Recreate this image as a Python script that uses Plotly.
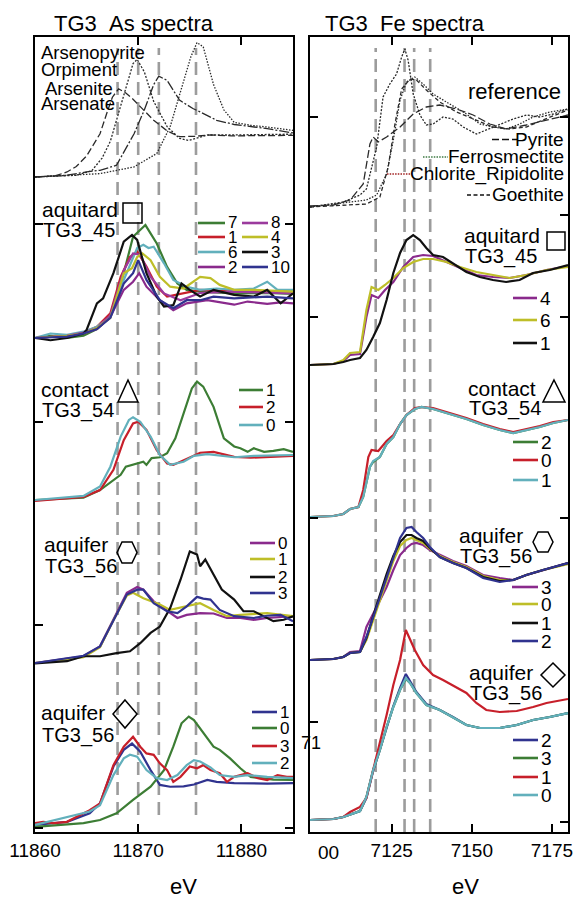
import plotly.graph_objects as go

# ======================= DATA =======================
# ---- As K-edge (left column) ----
as_ref_names = ["Arsenopyrite", "Orpiment", "Arsenite", "Arsenate"]
as_ref_e = [
    [11860, 11862, 11863.1, 11864, 11865, 11866, 11866.3, 11867, 11867.5, 11868.1, 11868.8, 11869.5, 11870.5, 11871.5, 11872.8, 11874, 11875.5, 11877, 11879, 11882, 11885],
    [11860, 11864, 11865.5, 11866.5, 11867.3, 11868.1, 11868.9, 11869.5, 11869.9, 11870.6, 11871.5, 11872.8, 11874, 11874.9, 11876.7, 11879, 11885],
    [11860, 11863, 11865, 11866.3, 11867.9, 11869.6, 11870.6, 11871.5, 11872, 11872.8, 11874, 11875.3, 11876, 11877.6, 11879.3, 11882.5, 11885],
    [11860, 11866.3, 11869.6, 11871.8, 11873.1, 11874.1, 11875.1, 11875.7, 11876.3, 11877.3, 11878.3, 11879.3, 11880.9, 11882.5, 11885],
]
as_ref_v = [
    [0, 0.03, 0.12, 0.25, 0.5, 0.9, 1.03, 1.55, 1.9, 2.1, 2.0, 1.85, 1.6, 1.35, 1.1, 0.96, 0.97, 1.0, 0.98, 0.99, 0.99],
    [0, 0.04, 0.15, 0.45, 0.85, 1.5, 2.2, 2.7, 2.8, 2.5, 1.8, 1.2, 0.92, 0.87, 1.0, 1.0, 1.02],
    [0, 0.04, 0.12, 0.16, 0.28, 1.03, 1.6, 2.2, 2.4, 2.3, 1.83, 1.63, 1.55, 1.35, 1.25, 1.15, 1.05],
    [0, 0.08, 0.24, 0.56, 1.2, 2.06, 2.86, 3.2, 3.1, 2.2, 1.6, 1.3, 1.23, 1.19, 1.11],
]

as_aqt_names = ["7", "1", "6", "2", "8", "4", "3", "10"]
as_aqt_e = [
    [11860, 11861.5, 11863.1, 11864.7, 11866.0, 11867.3, 11868.6, 11869.5, 11870.7, 11871.8, 11872.8, 11873.8, 11874.7, 11876.0, 11879.3, 11882.5, 11885],
    [11860, 11863.1, 11864.7, 11866.0, 11867.3, 11868.3, 11869.2, 11869.9, 11870.8, 11871.8, 11872.8, 11874.7, 11876.0, 11879.3, 11885],
    [11860, 11861.5, 11863.1, 11864.7, 11866.0, 11867.3, 11868.6, 11869.9, 11870.5, 11871.0, 11871.5, 11872.5, 11873.4, 11874.7, 11876.0, 11877.6, 11879.3, 11881.2, 11882.5, 11883.5, 11885],
    [11860, 11863.1, 11864.7, 11866.0, 11867.3, 11868.6, 11869.5, 11870.1, 11870.8, 11872.1, 11873.4, 11874.7, 11876.7, 11879.3, 11880.6, 11882.5, 11883.8, 11885],
    [11860, 11863.1, 11864.7, 11866.0, 11867.3, 11868.6, 11869.5, 11870.2, 11871.2, 11872.5, 11874.1, 11876.0, 11879.3, 11885],
    [11860, 11863.1, 11864.7, 11866.0, 11867.3, 11868.6, 11869.4, 11869.9, 11870.4, 11871.2, 11872.1, 11873.1, 11874.4, 11876.0, 11877.0, 11877.9, 11879.3, 11881.2, 11885],
    [11860, 11861.5, 11863.1, 11864.7, 11865.0, 11866.0, 11866.6, 11867.6, 11868.6, 11869.4, 11869.9, 11870.8, 11871.8, 11872.5, 11873.4, 11874.2, 11875.0, 11876.0, 11877.3, 11879.3, 11881.2, 11882.5, 11883.8, 11885],
    [11860, 11863.1, 11864.7, 11866.0, 11867.3, 11868.6, 11869.5, 11870.0, 11870.8, 11872.1, 11873.4, 11874.7, 11876.0, 11877.3, 11879.3, 11882.5, 11885],
]
as_aqt_v = [
    [0, 0.05, 0.0, 0.05, 0.2, 0.47, 1.44, 2.25, 2.51, 2.1, 1.58, 1.21, 1.07, 1.03, 0.99, 1.0, 0.98],
    [0, 0.05, 0.12, 0.25, 0.55, 1.36, 1.8, 1.92, 1.59, 1.14, 0.92, 1.0, 1.07, 1.03, 1.03],
    [0, 0.1, 0.07, 0.14, 0.25, 0.47, 1.29, 2.0, 2.07, 2.0, 2.03, 1.66, 1.29, 1.14, 1.07, 1.1, 1.07, 1.1, 1.25, 1.07, 1.07],
    [0, 0.05, 0.1, 0.2, 0.47, 1.07, 1.25, 1.44, 1.14, 0.84, 0.62, 0.77, 0.84, 0.74, 0.81, 0.76, 0.79, 0.77],
    [0, 0.05, 0.12, 0.22, 0.5, 1.5, 1.88, 1.85, 1.36, 0.99, 0.84, 1.0, 1.03, 0.99],
    [0, 0.05, 0.1, 0.22, 0.45, 1.44, 1.55, 1.8, 1.88, 1.73, 1.36, 1.14, 1.1, 1.36, 1.33, 1.18, 1.07, 1.07, 1.03],
    [0, -0.05, 0.0, 0.1, 0.18, 0.77, 0.88, 1.44, 2.14, 2.29, 2.18, 1.44, 0.92, 0.7, 0.73, 1.21, 1.07, 0.92, 1.07, 0.96, 0.92, 1.07, 0.77, 0.99],
    [0, 0.03, 0.1, 0.2, 0.45, 1.21, 1.44, 1.73, 1.29, 0.84, 0.66, 0.84, 0.84, 0.92, 0.88, 0.92, 0.88],
]

as_con_names = ["1", "2", "0"]
as_con_e = [
    [11860, 11864.7, 11866.3, 11867.6, 11868.3, 11868.8, 11869.5, 11870.5, 11870.8, 11871.3, 11872.1, 11872.8, 11873.6, 11874.4, 11875.2, 11875.7, 11876.3, 11877.3, 11878.3, 11879.3, 11879.9, 11880.6, 11881.2, 11882.2, 11883.1, 11884.1, 11885],
    [11860, 11864.7, 11866.3, 11867.6, 11868.6, 11869.5, 11870.0, 11870.8, 11871.8, 11872.8, 11873.4, 11874.4, 11876.0, 11877.3, 11879.3, 11880.9, 11882.5, 11885],
    [11860, 11864.7, 11866.3, 11867.3, 11868.3, 11869.1, 11869.5, 11870.2, 11871.2, 11872.1, 11873.1, 11874.4, 11875.4, 11876.7, 11879.3, 11881.2, 11885],
]
as_con_v = [
    [0, 0.05, 0.22, 0.44, 0.56, 0.74, 0.78, 0.85, 0.78, 0.93, 0.95, 1.04, 1.37, 1.93, 2.48, 2.63, 2.52, 2.07, 1.37, 1.19, 1.15, 1.07, 1.15, 1.07, 1.09, 1.13, 1.07],
    [-0.02, 0.07, 0.22, 0.67, 1.33, 1.7, 1.74, 1.56, 1.11, 0.81, 0.78, 0.89, 1.05, 1.07, 0.96, 0.94, 0.95, 0.98],
    [0, 0.09, 0.3, 0.74, 1.41, 1.78, 1.84, 1.74, 1.41, 1.0, 0.78, 0.85, 0.98, 1.02, 0.95, 0.98, 1.0],
]

as_hexa_names = ["0", "1", "2", "3"]
as_hexa_e = [
    [11860, 11864.7, 11866.3, 11867.6, 11868.9, 11869.9, 11870.5, 11871.5, 11872.8, 11873.8, 11874.7, 11876.0, 11877.3, 11878.6, 11879.9, 11881.2, 11882.5, 11885],
    [11860, 11864.7, 11866.3, 11867.6, 11868.9, 11869.5, 11870.5, 11872.1, 11873.1, 11874.7, 11876.0, 11877.3, 11878.6, 11879.9, 11882.5, 11885],
    [11860, 11863.1, 11864.7, 11866.3, 11867.9, 11869.2, 11870.2, 11871.2, 11872.1, 11873.1, 11874.1, 11875.0, 11875.7, 11876.0, 11876.5, 11877.3, 11878.1, 11879.3, 11880.2, 11881.2, 11882.2, 11883.1, 11884.1, 11885],
    [11860, 11864.7, 11866.3, 11867.6, 11868.9, 11869.9, 11870.5, 11871.5, 11872.8, 11873.8, 11874.7, 11875.7, 11876.3, 11877.0, 11877.9, 11879.3, 11881.2, 11882.5, 11883.8, 11885],
]
as_hexa_v = [
    [0, 0.15, 0.37, 0.96, 1.56, 1.69, 1.63, 1.37, 1.15, 1.0, 1.07, 1.11, 1.1, 1.0, 1.0, 0.96, 1.0, 1.04],
    [0, 0.13, 0.35, 0.95, 1.5, 1.56, 1.44, 1.3, 1.18, 1.26, 1.33, 1.18, 1.04, 1.07, 1.11, 1.04],
    [-0.01, 0.04, 0.15, 0.15, 0.22, 0.26, 0.44, 0.67, 0.81, 1.22, 1.85, 2.48, 2.41, 2.15, 2.3, 1.96, 1.63, 1.41, 1.15, 1.15, 1.04, 0.93, 0.96, 1.04],
    [0, 0.16, 0.37, 0.96, 1.52, 1.63, 1.63, 1.33, 1.15, 1.11, 1.26, 1.47, 1.43, 1.41, 1.18, 1.04, 1.0, 1.05, 1.07, 0.93],
]

as_diam_names = ["1", "0", "3", "2"]
as_diam_e = [
    [11860, 11863.1, 11865.3, 11866.3, 11867.6, 11868.6, 11869.4, 11870.2, 11871.2, 11872.1, 11873.1, 11874.4, 11875.4, 11876.7, 11877.6, 11879.3, 11882.5, 11885],
    [11860, 11864.7, 11866.3, 11867.9, 11869.5, 11871.2, 11872.5, 11873.4, 11874.2, 11874.9, 11875.4, 11876.3, 11877.3, 11877.9, 11878.9, 11879.9, 11880.9, 11881.9, 11883.1, 11885],
    [11860, 11860.8, 11861.8, 11863.1, 11865.3, 11866.3, 11867.6, 11868.6, 11869.5, 11870.2, 11870.8, 11871.5, 11872.1, 11872.8, 11873.4, 11874.1, 11875.0, 11875.7, 11876.3, 11877.0, 11877.9, 11878.6, 11879.3, 11880.6, 11881.6, 11882.5, 11883.5, 11884.4, 11885],
    [11860, 11865.3, 11866.3, 11867.6, 11868.6, 11869.2, 11869.9, 11870.8, 11871.8, 11872.8, 11873.8, 11874.7, 11875.4, 11876.0, 11877.0, 11877.9, 11879.3, 11880.6, 11882.5, 11885],
]
as_diam_v = [
    [0, 0.07, 0.26, 0.48, 1.3, 1.67, 1.81, 1.63, 1.22, 0.89, 0.85, 0.86, 0.9, 1.0, 0.96, 0.93, 0.92, 0.93],
    [-0.04, 0.04, 0.11, 0.26, 0.56, 0.85, 1.22, 1.74, 2.26, 2.41, 2.33, 2.04, 1.74, 1.67, 1.48, 1.26, 1.07, 1.04, 1.01, 1.0],
    [0.04, 0.07, 0.04, 0.07, 0.33, 0.48, 1.33, 1.74, 1.96, 1.74, 1.59, 1.56, 1.37, 1.22, 0.96, 1.07, 1.3, 1.26, 1.33, 1.22, 1.15, 0.96, 1.07, 1.15, 1.04, 1.0, 1.11, 1.07, 1.07],
    [0.0, 0.3, 0.44, 1.11, 1.48, 1.56, 1.52, 1.22, 1.04, 1.0, 1.11, 1.33, 1.44, 1.41, 1.28, 1.11, 1.07, 1.11, 1.07, 1.04],
]

# ---- Fe K-edge (right column) ----
fe_ref_names = ["Pyrite", "Ferrosmectite", "Chlorite_Ripidolite", "Goethite"]
fe_ref_e = [
    [7099.5, 7106.8, 7112.0, 7116.1, 7118.2, 7119.2, 7120.8, 7123.4, 7127.6, 7131.7, 7135.8, 7140.0, 7145.2, 7150.4, 7155.6, 7160.7, 7167.0, 7173.3, 7180.0],
    [7099.5, 7112.0, 7117.1, 7120.3, 7123.4, 7125.5, 7127.6, 7129.6, 7132.2, 7134.8, 7137.9, 7143.1, 7148.3, 7152.5, 7156.6, 7160.7, 7164.9, 7169.1, 7174.3, 7180.0],
    [7099.5, 7109.9, 7115.1, 7117.1, 7120.3, 7122.3, 7124.4, 7126.5, 7128.1, 7129.1, 7130.1, 7131.7, 7133.8, 7135.8, 7137.9, 7141.0, 7144.1, 7147.3, 7151.4, 7154.5, 7158.7, 7162.9, 7167.0, 7171.2, 7175.4, 7180.0],
    [7099.5, 7117.1, 7121.3, 7123.9, 7126.0, 7128.1, 7130.7, 7132.7, 7135.8, 7140.0, 7145.2, 7150.4, 7156.6, 7161.8, 7167.0, 7172.2, 7180.0],
]
fe_ref_v = [
    [0.01, 0.02, 0.07, 0.23, 0.63, 0.7, 0.65, 0.7, 0.8, 0.93, 1.0, 1.02, 0.98, 0.92, 0.83, 0.78, 0.82, 0.87, 0.92],
    [0, 0.05, 0.07, 0.12, 0.33, 0.67, 1.07, 1.25, 1.3, 1.23, 1.13, 1.03, 0.93, 0.83, 0.8, 0.78, 0.83, 0.9, 0.95, 0.98],
    [0, 0.05, 0.12, 0.18, 0.6, 1.1, 1.23, 1.33, 1.5, 1.58, 1.47, 1.13, 0.92, 0.82, 0.83, 0.9, 0.88, 0.8, 0.73, 0.77, 0.83, 0.88, 0.92, 0.9, 0.93, 0.98],
    [0, 0.03, 0.1, 0.4, 0.83, 1.18, 1.28, 1.27, 1.17, 1.05, 0.95, 0.88, 0.8, 0.78, 0.8, 0.87, 0.97],
]

fe_aqt_names = ["4", "6", "1"]
fe_aqt_e = [
    [7099.5, 7106.8, 7109.9, 7112.0, 7115.1, 7117.1, 7118.7, 7120.8, 7122.9, 7125.5, 7128.6, 7131.7, 7134.8, 7137.9, 7142.1, 7146.3, 7151.4, 7156.6, 7161.8, 7167.0, 7173.3, 7180.0],
    [7099.5, 7106.8, 7109.9, 7112.0, 7115.1, 7117.1, 7118.7, 7120.8, 7122.9, 7125.5, 7128.6, 7131.7, 7134.8, 7137.9, 7142.1, 7146.3, 7151.4, 7156.6, 7161.8, 7167.0, 7173.3, 7180.0],
    [7099.5, 7106.8, 7109.9, 7112.0, 7115.1, 7117.1, 7119.2, 7121.3, 7123.4, 7125.5, 7127.6, 7129.6, 7131.7, 7133.8, 7135.8, 7137.9, 7141.0, 7144.1, 7148.3, 7152.5, 7156.6, 7160.7, 7164.9, 7169.1, 7174.3, 7180.0],
]
fe_aqt_v = [
    [0, 0.01, 0.04, 0.1, 0.11, 0.48, 0.7, 0.67, 0.75, 0.83, 0.98, 1.08, 1.1, 1.09, 1.03, 0.97, 0.9, 0.88, 0.87, 0.9, 0.95, 0.99],
    [0, 0.01, 0.05, 0.12, 0.13, 0.55, 0.78, 0.75, 0.8, 0.87, 0.97, 1.03, 1.06, 1.06, 1.03, 0.98, 0.93, 0.9, 0.87, 0.9, 0.95, 0.98],
    [0, 0.01, 0.03, 0.05, 0.07, 0.15, 0.28, 0.42, 0.65, 0.92, 1.12, 1.25, 1.3, 1.25, 1.17, 1.1, 1.08, 1.02, 0.93, 0.88, 0.85, 0.83, 0.85, 0.92, 0.95, 1.0],
]

fe_con_names = ["2", "0", "1"]
fe_con_e = [
    [7099.5, 7106.8, 7109.9, 7112.0, 7114.6, 7116.1, 7118.2, 7119.2, 7121.3, 7123.4, 7125.5, 7127.6, 7129.6, 7132.2, 7134.3, 7137.9, 7143.1, 7148.3, 7153.5, 7158.7, 7162.9, 7167.0, 7171.2, 7175.4, 7180.0],
    [7099.5, 7106.8, 7109.9, 7112.0, 7114.6, 7116.1, 7117.7, 7118.7, 7120.8, 7123.4, 7125.5, 7127.6, 7129.6, 7132.2, 7134.3, 7137.9, 7143.1, 7148.3, 7153.5, 7158.7, 7162.9, 7167.0, 7171.2, 7175.4, 7180.0],
    [7099.5, 7106.8, 7109.9, 7112.0, 7114.6, 7116.1, 7118.2, 7119.2, 7121.3, 7123.4, 7125.5, 7127.6, 7129.6, 7132.2, 7134.3, 7137.9, 7143.1, 7148.3, 7153.5, 7158.7, 7162.9, 7167.0, 7171.2, 7175.4, 7180.0],
]
fe_con_v = [
    [0, 0.01, 0.03, 0.08, 0.1, 0.2, 0.5, 0.55, 0.6, 0.73, 0.8, 0.93, 1.02, 1.08, 1.1, 1.08, 1.03, 0.98, 0.92, 0.87, 0.84, 0.87, 0.9, 0.94, 0.97],
    [0, 0.01, 0.03, 0.08, 0.1, 0.27, 0.6, 0.67, 0.66, 0.76, 0.82, 0.93, 1.02, 1.09, 1.1, 1.09, 1.04, 0.99, 0.93, 0.88, 0.85, 0.88, 0.91, 0.95, 0.97],
    [0, 0.01, 0.03, 0.08, 0.1, 0.2, 0.5, 0.56, 0.6, 0.73, 0.8, 0.93, 1.02, 1.08, 1.1, 1.08, 1.03, 0.98, 0.92, 0.87, 0.84, 0.87, 0.9, 0.94, 0.97],
]

fe_hexa_names = ["3", "0", "1", "2"]
fe_hexa_e = [7099.5, 7106.8, 7109.9, 7112.0, 7115.1, 7117.1, 7120.3, 7123.4, 7125.5, 7127.6, 7129.6, 7131.2, 7132.7, 7134.8, 7136.9, 7140.0, 7144.1, 7148.3, 7153.5, 7158.7, 7162.9, 7167.0, 7172.2, 7180.0]
fe_hexa_v = [
    [0, 0.01, 0.03, 0.08, 0.09, 0.33, 0.53, 0.73, 0.9, 1.05, 1.12, 1.16, 1.17, 1.15, 1.1, 1.05, 0.99, 0.94, 0.85, 0.82, 0.8, 0.85, 0.9, 0.97],
    [0, 0.01, 0.03, 0.07, 0.08, 0.2, 0.5, 0.8, 0.99, 1.14, 1.2, 1.22, 1.2, 1.17, 1.11, 1.04, 0.98, 0.93, 0.84, 0.8, 0.8, 0.85, 0.9, 0.96],
    [0, 0.01, 0.03, 0.07, 0.08, 0.22, 0.55, 0.86, 1.04, 1.18, 1.25, 1.25, 1.22, 1.19, 1.12, 1.03, 0.97, 0.92, 0.83, 0.79, 0.8, 0.85, 0.9, 0.97],
    [0, 0.01, 0.03, 0.07, 0.08, 0.23, 0.53, 0.83, 1.03, 1.22, 1.32, 1.33, 1.28, 1.22, 1.13, 1.03, 0.97, 0.92, 0.82, 0.78, 0.8, 0.85, 0.9, 0.97],
]

fe_diam_names = ["2", "3", "1", "0"]
fe_diam_e = [
    [7099.5, 7106.8, 7109.9, 7113.0, 7115.1, 7117.1, 7119.2, 7121.3, 7123.4, 7125.5, 7127.6, 7129.4, 7130.7, 7132.7, 7135.8, 7140.0, 7144.1, 7148.3, 7152.5, 7158.7, 7164.0, 7169.1, 7174.3, 7180.0],
    [7099.5, 7106.8, 7109.9, 7113.0, 7115.1, 7117.1, 7119.2, 7121.3, 7123.4, 7125.5, 7127.6, 7129.4, 7130.7, 7132.7, 7135.8, 7140.0, 7144.1, 7148.3, 7152.5, 7158.7, 7164.0, 7169.1, 7174.3, 7180.0],
    [7099.5, 7106.8, 7109.9, 7112.0, 7115.1, 7117.1, 7119.2, 7121.3, 7123.4, 7125.5, 7127.6, 7129.4, 7130.7, 7132.2, 7134.8, 7137.9, 7141.0, 7145.2, 7148.3, 7151.4, 7154.5, 7158.7, 7164.0, 7169.1, 7173.3, 7180.0],
    [7099.5, 7106.8, 7109.9, 7113.0, 7115.1, 7117.1, 7119.2, 7121.3, 7123.4, 7125.5, 7127.6, 7129.4, 7130.7, 7132.7, 7135.8, 7140.0, 7144.1, 7148.3, 7152.5, 7158.7, 7164.0, 7169.1, 7174.3, 7180.0],
]
fe_diam_v = [
    [0, 0.01, 0.03, 0.07, 0.09, 0.22, 0.49, 0.7, 0.93, 1.14, 1.32, 1.46, 1.39, 1.28, 1.16, 1.1, 1.03, 0.95, 0.92, 0.92, 0.95, 1.0, 1.03, 1.07],
    [0, 0.01, 0.03, 0.07, 0.09, 0.23, 0.5, 0.7, 0.93, 1.13, 1.3, 1.41, 1.37, 1.27, 1.15, 1.1, 1.03, 0.95, 0.92, 0.92, 0.95, 1.0, 1.03, 1.07],
    [0, 0.01, 0.03, 0.08, 0.13, 0.22, 0.5, 0.77, 1.05, 1.35, 1.6, 1.9, 1.8, 1.7, 1.55, 1.45, 1.4, 1.33, 1.27, 1.17, 1.1, 1.08, 1.09, 1.13, 1.17, 1.21],
    [0, 0.01, 0.03, 0.07, 0.09, 0.23, 0.5, 0.7, 0.93, 1.13, 1.3, 1.42, 1.37, 1.27, 1.15, 1.1, 1.03, 0.95, 0.92, 0.92, 0.95, 1.0, 1.03, 1.07],
]

# reference edge/white-line energies (dashed guides)
as_guides = [11868.0, 11870.0, 11872.0, 11875.6]
fe_guides = [7120.0, 7129.0, 7132.0, 7137.0]

as_ticks = [11860, 11870, 11880]
fe_ticks = [7125, 7150, 7175]

# ======================= STYLE / LAYOUT =======================
W, H = 574, 898
ML, MR, MT, MB = 35, 6, 37, 66
PW, PH = W - ML - MR, H - MT - MB
FONT = "Liberation Sans, Arial, sans-serif"

GREEN, RED, TEAL = "#3c7d34", "#c71f2a", "#62b0bc"
PURPLE, PURPLE2, OLIVE = "#8a2a8c", "#9b3a9d", "#bebe28"
BLACK, NAVY = "#111111", "#30338f"
REFC = "#2a2a2a"


def px(x):
    return (x - ML) / PW


def py(y):
    return (H - MB - y) / PH


# y offsets (pixels above bottom) and scale (pixels per unit) of each stacked panel
panels_left = [
    (as_ref_e, as_ref_v, 655, 42, [REFC] * 4, ["7px,3px", "2px,1.6px", "10px,2px,2px,2px", "1.5px,1.5px"], 1.3),
    (as_aqt_e, as_aqt_v, 494, 45, [GREEN, RED, TEAL, PURPLE, PURPLE2, OLIVE, BLACK, NAVY], None, 2.2),
    (as_con_e, as_con_v, 332, 45, [GREEN, RED, TEAL], None, 2.2),
    (as_hexa_e, as_hexa_v, 169, 45, [PURPLE, OLIVE, BLACK, NAVY], None, 2.2),
    (as_diam_e, as_diam_v, 7, 45, [NAVY, GREEN, RED, TEAL], None, 2.2),
]
panels_right = [
    (fe_ref_e, fe_ref_v, 625, 100, [REFC] * 4, ["8px,3px", "1.5px,1.5px", "2px,1.5px", "4px,2.5px"], 1.3),
    (fe_aqt_e, fe_aqt_v, 467, 100, [PURPLE, OLIVE, BLACK], None, 2.2),
    (fe_con_e, fe_con_v, 315, 100, [GREEN, RED, TEAL], None, 2.2),
    (fe_hexa_e, fe_hexa_v, 172, 100, [PURPLE, OLIVE, BLACK, NAVY], None, 2.2),
    (fe_diam_e, fe_diam_v, 12, 100, [NAVY, GREEN, RED, TEAL], None, 2.2),
]

fig = go.Figure()


def add_panel(panel, xa, ya):
    es, vs, off, sc, cols, dashes, lw = panel
    for i, v in enumerate(vs):
        e = es[i] if isinstance(es[0], list) else es
        fig.add_trace(go.Scatter(
            x=e, y=[off + sc * val for val in v], mode="lines",
            line=dict(color=cols[i], width=lw, dash=(dashes[i] if dashes else "solid")),
            xaxis=xa, yaxis=ya, showlegend=False, hoverinfo="skip"))


for p in panels_left:
    add_panel(p, "x", "y")
for p in panels_right:
    add_panel(p, "x2", "y2")
fig.add_trace(go.Scatter(x=[], y=[], xaxis="x2", yaxis="y3", showlegend=False))

shapes = []
for g in as_guides:
    shapes.append(dict(type="line", xref="x", yref="y", x0=g, x1=g, y0=17, y1=784,
                       line=dict(color="#9c9c9c", width=2.6, dash="13px,7px"), layer="below"))
for g in fe_guides:
    shapes.append(dict(type="line", xref="x2", yref="y2", x0=g, x1=g, y0=0, y1=784,
                       line=dict(color="#9c9c9c", width=2.6, dash="13px,7px"), layer="below"))

annotations = []


def text(t, x, y, size, xanchor="left"):
    annotations.append(dict(text=t, x=px(x), y=py(y), xref="paper", yref="paper",
                            xanchor=xanchor, yanchor="middle", showarrow=False,
                            font=dict(size=size, color="black", family=FONT)))


def swatch(x0, x1, y, color, dash="solid", w=2.6):
    shapes.append(dict(type="line", xref="paper", yref="paper", x0=px(x0), x1=px(x1),
                       y0=py(y), y1=py(y), line=dict(color=color, width=w, dash=dash)))


def legend(names, colors, xs0, xs1, xt, rows, size):
    for n, c, r in zip(names, colors, rows):
        swatch(xs0, xs1, r, c)
        text(n, xt, r, size)


# titles
text("TG3\u00a0\u00a0As spectra", 134, 23, 22, "center")
text("TG3\u00a0\u00a0Fe spectra", 405, 23, 22, "center")
text("eV", 183, 886, 22, "center")
text("eV", 465, 886, 22, "center")
text("00", 316, 852, 19)
text("71", 299, 743, 18)

# As reference labels
for n, y, x in zip(as_ref_names, [52, 69, 89, 104], [39, 39, 43, 39]):
    text(n, x, y, 18.5)

# As sample legends
cols = panels_left[1][4]
legend(as_aqt_names[:4], cols[:4], 198, 225, 226, [223, 237, 252, 267], 17)
legend(as_aqt_names[4:], cols[4:], 242, 268, 269, [223, 237, 252, 267], 17)
legend(as_con_names, panels_left[2][4], 239, 263, 264, [390, 407, 425], 17)
legend(as_hexa_names, panels_left[3][4], 250, 275, 276, [543, 559, 577, 593], 17)
legend(as_diam_names, panels_left[4][4], 252, 277, 278, [712, 728, 746, 763], 17)

# Fe reference legend (text right-aligned)
text("reference", 563, 92, 22, "right")
for n, y, (s0, s1), c, d in zip(fe_ref_names, [139.5, 157, 174, 195],
                                [(492, 517), (423, 448), (387, 412), (467, 490)],
                                [BLACK, "#3e7a44", "#a02020", BLACK],
                                ["7px,3px", "1.5px,1.2px", "1.5px,1.2px", "4px,2.5px"]):
    swatch(s0, s1, y, c, d, 1.3)
    text(n, 566, y, 19, "right")

legend(fe_aqt_names, panels_right[1][4], 513, 537, 538, [298, 320, 343], 19)
legend(fe_con_names, panels_right[2][4], 513, 538, 539, [442, 460, 480], 19)
legend(fe_hexa_names, panels_right[3][4], 512, 538, 539, [587, 604, 623, 641], 19)
legend(fe_diam_names, panels_right[4][4], 513, 538, 539, [740, 758, 777, 795], 19)

# sample labels: (line1, line2, x, baseline1, baseline2)
FS1, FS2 = 21, 20
labels = [
    ("aquitard", "TG3_45", 40, 217, 238),
    ("contact", "TG3_54", 39, 397, 417),
    ("aquifer", "TG3_56", 42, 552, 573),
    ("aquifer", "TG3_56", 39, 720, 742),
    ("aquitard", "TG3_45", 462, 243, 263),
    ("contact", "TG3_54", 466, 396, 415),
    ("aquifer", "TG3_56", 457, 543, 563),
    ("aquifer", "TG3_56", 467, 680, 700),
]
for l1, l2, x, b1, b2 in labels:
    text(l1, x, b1 - 0.35 * FS1, FS1)
    text(l2, x + 1, b2 - 0.35 * FS2, FS2)


def poly(pts):
    path = "M " + " L ".join(f"{px(x):.5f},{py(y):.5f}" for x, y in pts) + " Z"
    shapes.append(dict(type="path", xref="paper", yref="paper", path=path,
                       line=dict(color="black", width=1.5), fillcolor="rgba(0,0,0,0)"))


def square(x0, y0, x1, y1):
    poly([(x0, y0), (x1, y0), (x1, y1), (x0, y1)])


def triangle(x0, y0, x1, y1):
    poly([((x0 + x1) / 2, y0), (x1, y1), (x0, y1)])


def hexagon(x0, y0, x1, y1):
    q = (x1 - x0) / 4
    ym = (y0 + y1) / 2
    poly([(x0, ym), (x0 + q, y0), (x1 - q, y0), (x1, ym), (x1 - q, y1), (x0 + q, y1)])


def diamond(x0, y0, x1, y1):
    xm, ym = (x0 + x1) / 2, (y0 + y1) / 2
    poly([(xm, y0), (x1, ym), (xm, y1), (x0, ym)])


square(123, 203, 142, 223)
square(547, 232, 565, 250)
triangle(118, 380, 138, 402)
triangle(543, 380, 565, 402)
hexagon(117, 542, 137, 563)
hexagon(533, 532, 553, 552)
diamond(113, 700, 137, 728)
diamond(541, 663, 565, 687)

axis_common = dict(showline=True, linecolor="black", linewidth=2, ticks="inside",
                   ticklen=8, tickwidth=1.5, tickcolor="black", showgrid=False, zeroline=False)

fig.update_layout(
    width=W, height=H, margin=dict(l=ML, r=MR, t=MT, b=MB, pad=0, autoexpand=False),
    paper_bgcolor="white", plot_bgcolor="white",
    font=dict(family=FONT, size=19, color="black"),
    xaxis=dict(domain=[0, (293 - ML) / PW], range=[11860, 11885], tickvals=as_ticks,
               ticktext=[str(t) for t in as_ticks], mirror="ticks", anchor="y",
               tickfont=dict(size=19), **axis_common),
    xaxis2=dict(domain=[(310 - ML) / PW, 1], range=[7099.5, 7180], tickvals=fe_ticks,
                ticktext=[str(t) for t in fe_ticks], mirror="ticks", anchor="y2",
                tickfont=dict(size=19), **axis_common),
    yaxis=dict(domain=[0, 1], range=[0, PH], tickvals=[608, 410, 207, 4], showticklabels=False,
               mirror="ticks", anchor="x", **axis_common),
    yaxis2=dict(domain=[0, 1], range=[0, PH], tickvals=[715, 515, 314, 110], showticklabels=False,
                mirror=True, anchor="x2", **axis_common),
    yaxis3=dict(domain=[0, 1], range=[0, PH], tickvals=[715, 617, 515, 314, 10], showticklabels=False,
                overlaying="y2", side="right", anchor="x2",
                **{**axis_common, "showline": False}),
    shapes=shapes, annotations=annotations,
)

fig.write_html("out.html", config={"displayModeBar": False},
               post_script="document.body.style.margin='0px';document.body.style.padding='0px';")
